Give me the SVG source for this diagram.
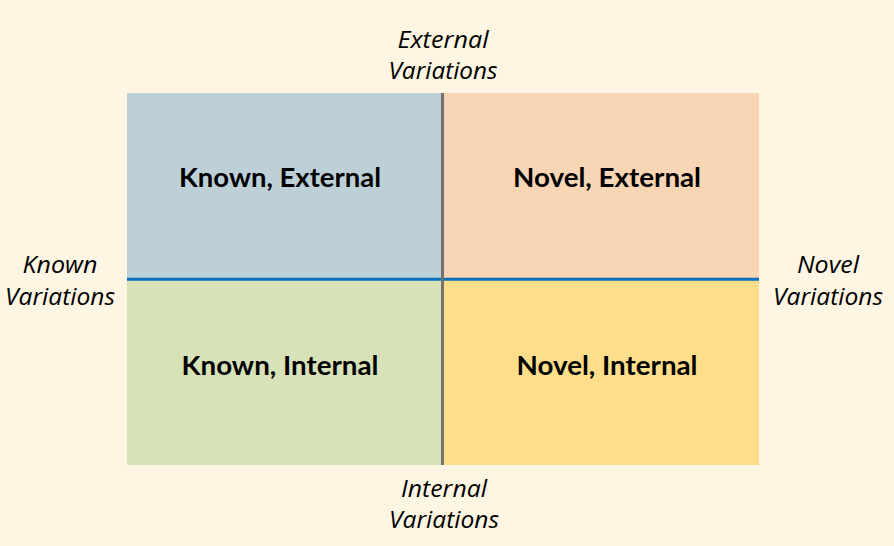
<svg xmlns="http://www.w3.org/2000/svg" width="894" height="546" viewBox="0 0 894 546">
<style>
.q{font-family:Lato,"Open Sans","Liberation Sans",sans-serif;font-weight:bold;font-size:26px;fill:#000;text-anchor:middle;font-variant-ligatures:none}
.a{font-family:"Open Sans","Noto Sans","Liberation Sans",sans-serif;font-style:italic;font-size:23px;fill:#000;text-anchor:middle;font-variant-ligatures:none}
</style>
<rect x="0" y="0" width="894" height="546" fill="#FEF5E3"/>
<g id="known-external"><rect x="127" y="93" width="316" height="186" fill="#BDD0D7"/><text class="q" x="280" y="187" textLength="202" lengthAdjust="spacingAndGlyphs">Known, External</text></g>
<g id="novel-external"><rect x="443" y="93" width="316" height="186" fill="#F8D5B4"/><text class="q" x="607" y="187" textLength="188" lengthAdjust="spacingAndGlyphs">Novel, External</text></g>
<g id="known-internal"><rect x="127" y="279" width="316" height="186" fill="#D8E2B9"/><text class="q" x="280" y="375" textLength="197" lengthAdjust="spacingAndGlyphs">Known, Internal</text></g>
<g id="novel-internal"><rect x="443" y="279" width="316" height="186" fill="#FEDE8A"/><text class="q" x="607" y="375" textLength="181" lengthAdjust="spacingAndGlyphs">Novel, Internal</text></g>
<g id="connectors">
<line x1="127" y1="279.3" x2="759" y2="279.3" stroke="#0070C0" stroke-width="3"/>
<line x1="442.5" y1="93" x2="442.5" y2="465" stroke="#767171" stroke-width="3"/>
</g>
<g id="axis-top"><text class="a" x="443" y="48" textLength="91" lengthAdjust="spacingAndGlyphs">External</text><text class="a" x="443" y="79" textLength="109" lengthAdjust="spacingAndGlyphs">Variations</text></g>
<g id="axis-left"><text class="a" x="60" y="273" textLength="75" lengthAdjust="spacingAndGlyphs">Known</text><text class="a" x="60" y="305" textLength="110" lengthAdjust="spacingAndGlyphs">Variations</text></g>
<g id="axis-right"><text class="a" x="828" y="273" textLength="62" lengthAdjust="spacingAndGlyphs">Novel</text><text class="a" x="828" y="305" textLength="110" lengthAdjust="spacingAndGlyphs">Variations</text></g>
<g id="axis-bottom"><text class="a" x="444" y="497" textLength="86" lengthAdjust="spacingAndGlyphs">Internal</text><text class="a" x="444" y="528" textLength="110" lengthAdjust="spacingAndGlyphs">Variations</text></g>
</svg>
